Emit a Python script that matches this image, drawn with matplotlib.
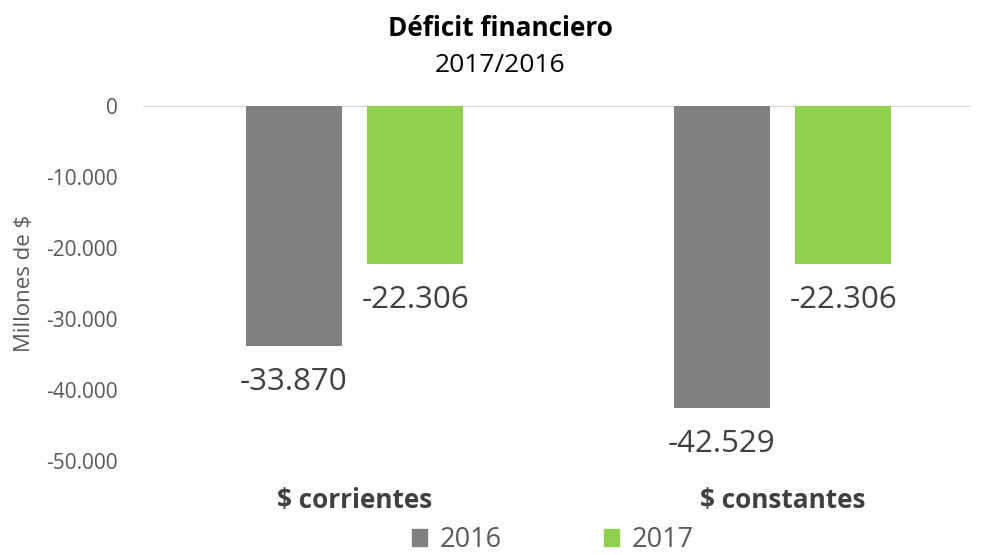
import matplotlib
matplotlib.use("Agg")
import matplotlib.pyplot as plt
from matplotlib.patches import Patch

categories = ["$ corrientes", "$ constantes"]
series_names = ["2016", "2017"]
values_2016 = [-33870, -42529]
values_2017 = [-22306, -22306]
y_ticks = [0, -10000, -20000, -30000, -40000, -50000]
y_tick_labels = ["0", "-10.000", "-20.000", "-30.000", "-40.000", "-50.000"]

colors = ["#7f7f7f", "#92d050"]
text_color = "#595959"
FONT = ["Open Sans", "DejaVu Sans"]
plt.rcParams["font.family"] = FONT

fig = plt.figure(figsize=(9.85, 5.55), dpi=100)
ax = fig.add_axes([143/985, 1-461/555, 828/985, 355/555])

def fmt(v):
    s = f"{abs(v):,}".replace(",", ".")
    return ("-" if v < 0 else "") + s

width = 0.224
offset = 0.142
xs = list(range(len(categories)))
for i, (vals, name) in enumerate(zip([values_2016, values_2017], series_names)):
    pos = [x + (-offset if i == 0 else offset) for x in xs]
    bars = ax.bar(pos, vals, width=width, color=colors[i], label=name, zorder=2)
    for b, v in zip(bars, vals):
        ax.annotate(fmt(v), xy=(b.get_x() + b.get_width()/2, v),
                    xytext=(0, -36*0.72), textcoords="offset points",
                    ha="center", va="center", fontsize=22.5, color="#404040")

ax.set_xlim(-0.494, 1.44)
ax.set_ylim(-50000, 0)
ax.set_yticks(y_ticks)
ax.set_yticklabels(y_tick_labels)
ax.tick_params(axis="y", length=0, pad=18, labelsize=15, labelcolor=text_color)
ax.set_xticks(xs)
ax.set_xticklabels(categories, fontweight="bold", fontsize=18.8, color="#404040")
ax.tick_params(axis="x", length=0, pad=19)
ax.axhline(0, color="#d9d9d9", lw=1.5, zorder=1)
for s in ax.spines.values():
    s.set_visible(False)

ax.set_ylabel("Millones de $", fontsize=16, color=text_color, labelpad=8)

fig.text(500/985, 1-28/555, "Déficit financiero", ha="center", va="center",
         fontsize=18.8, fontweight="bold", color="#000000")
fig.text(500/985, 1-66/555, "2017/2016", ha="center", va="center",
         fontsize=19, color="#000000")

handles = [Patch(color=c) for c in colors]
fig.legend(handles, series_names, loc="center", bbox_to_anchor=(553/985, 1-540/555),
           ncol=2, frameon=False, fontsize=19.5, labelcolor=text_color,
           handlelength=0.55, handleheight=0.55, handletextpad=0.47, columnspacing=3.8,
           borderpad=0.1)

fig.savefig("out.png", dpi=100)
